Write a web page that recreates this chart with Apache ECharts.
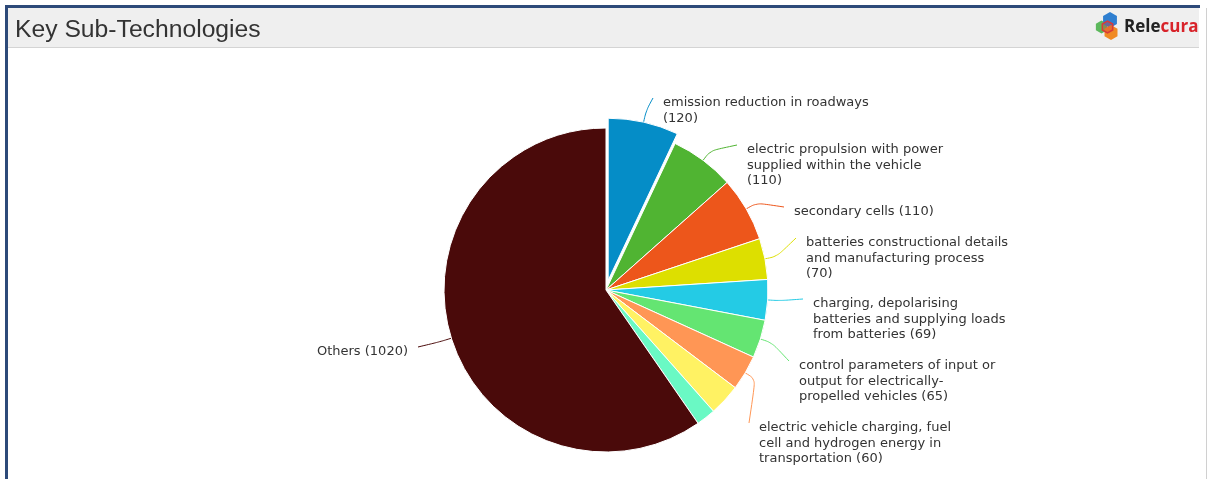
<!DOCTYPE html>
<html>
<head>
<meta charset="utf-8">
<title>Key Sub-Technologies</title>
<script src="https://cdn.jsdelivr.net/npm/echarts@6/dist/echarts.min.js"></script>
<style>
  html, body { margin: 0; padding: 0; background: #ffffff; }
  #chart { width: 1208px; height: 479px; }
</style>
</head>
<body>
<div id="chart"></div>
<script>
// Sub-technology names (line breaks where the label wraps) and patent counts
const categories = [
  'emission reduction in roadways',
  'electric propulsion with power\nsupplied within the vehicle',
  'secondary cells',
  'batteries constructional details\nand manufacturing process',
  'charging, depolarising\nbatteries and supplying loads\nfrom batteries',
  'control parameters of input or\noutput for electrically-\npropelled vehicles',
  'electric vehicle charging, fuel\ncell and hydrogen energy in\ntransportation',
  'unlabelled sub-technology A',
  'unlabelled sub-technology B',
  'Others'
];
const values = [120, 110, 110, 70, 69, 65, 60, 54, 33, 1020];
// the count is written on its own line for these labels
const countOnNewLine = [true, true, false, true, false, false, false, false, false, false];
const labelVisible = [true, true, true, true, true, true, true, false, false, true];
// the pulled-out slice
const SLICED = 0;

const colors = ['#058DC7', '#50B432', '#ED561B', '#DDDF00', '#24CBE5',
                '#64E572', '#FF9655', '#FFF263', '#6AF9C4', '#4A0A0A'];

// label placement: [x of the text edge nearest the pie, y of the first line's centre]
const labelPos = [[663, 101], [747, 148], [794, 210], [806, 241], [813, 302],
                  [799, 364], [759, 426], null, null, [408, 350]];

const CX = 606, CY = 290, R = 162, OFFSET = 10, LINE_H = 15.5;

const total = values.reduce((a, b) => a + b, 0);
const cumulative = [];
values.reduce((acc, v, i) => { cumulative[i] = acc; return acc + v; }, 0);
const midAngle = i => (cumulative[i] + values[i] / 2) / total * Math.PI * 2;

// shift of the pulled-out slice along its bisector
const slicedDx = OFFSET * Math.sin(midAngle(SLICED));
const slicedDy = -OFFSET * Math.cos(midAngle(SLICED));

function hexPoints(cx, cy, r) {
  const pts = [];
  for (let k = 0; k < 6; k++) {
    const a = Math.PI / 6 + k * Math.PI / 3;
    pts.push([cx + r * Math.cos(a), cy + r * Math.sin(a)]);
  }
  return pts;
}

const chart = echarts.init(document.getElementById('chart'), null, { renderer: 'canvas' });

// main ring: every slice except the pulled-out one, plus all labels
const mainData = categories.map((name, i) => ({
  name: name,
  value: values[i],
  itemStyle: i === SLICED
    ? { color: 'rgba(0,0,0,0)', borderWidth: 0 }
    : { color: colors[i] },
  label: { show: labelVisible[i] },
  labelLine: { show: labelVisible[i], lineStyle: { color: colors[i], width: 1 } }
}));

// the pulled-out slice, drawn from the same values on a shifted centre
const slicedData = categories.map((name, i) => ({
  name: name,
  value: values[i],
  itemStyle: i === SLICED
    ? { color: colors[i] }
    : { color: 'rgba(0,0,0,0)', borderWidth: 0 }
}));

chart.setOption({
  animation: false,
  graphic: [
    // panel frame and header bar
    { type: 'rect', z: 0, shape: { x: 8, y: 8, width: 1191, height: 39 }, style: { fill: '#efefef' } },
    { type: 'rect', z: 0, shape: { x: 8, y: 47, width: 1191, height: 1 }, style: { fill: '#d4d4d4' } },
    { type: 'rect', z: 0, shape: { x: 5, y: 5, width: 1195, height: 3 }, style: { fill: '#2d4a79' } },
    { type: 'rect', z: 0, shape: { x: 5, y: 5, width: 3, height: 474 }, style: { fill: '#2d4a79' } },
    { type: 'rect', z: 0, shape: { x: 1206, y: 8, width: 1, height: 471 }, style: { fill: '#d0d0d0' } },
    {
      type: 'text', z: 1, x: 15, y: 30,
      style: {
        text: 'Key Sub-Technologies', fill: '#333333',
        font: '24.7px "Liberation Sans", Arial, sans-serif',
        verticalAlign: 'middle'
      }
    },
    // brand mark
    { type: 'polygon', z: 1, shape: { points: hexPoints(1101.5, 27, 6.5) }, style: { fill: '#5cb85c' } },
    { type: 'polygon', z: 1, shape: { points: hexPoints(1110, 20, 8) }, style: { fill: '#2f7fd0' } },
    { type: 'polygon', z: 1, shape: { points: hexPoints(1111, 32.5, 7.5) }, style: { fill: '#f08a24' } },
    { type: 'polygon', z: 2, shape: { points: hexPoints(1107.5, 27, 6) }, style: { fill: 'rgba(214,60,60,0.35)', stroke: '#d83a3a', lineWidth: 1.5 } },
    {
      type: 'text', z: 1, x: 1124, y: 27,
      style: {
        text: '{a|Rele}{b|cura}',
        verticalAlign: 'middle',
        rich: {
          a: { fill: '#222222', font: 'bold 17px "Open Sans", sans-serif' },
          b: { fill: '#d8232a', font: 'bold 17px "Open Sans", sans-serif' }
        }
      }
    }
  ],
  series: [{
    type: 'pie',
    name: 'Key Sub-Technologies',
    center: [CX, CY],
    radius: R,
    startAngle: 90,
    clockwise: true,
    avoidLabelOverlap: false,
    emphasis: { disabled: true },
    itemStyle: { borderColor: '#ffffff', borderWidth: 1 },
    label: {
      show: true,
      position: 'outside',
      color: '#333333',
      fontFamily: '"DejaVu Sans", Verdana, sans-serif',
      fontSize: 13,
      lineHeight: LINE_H,
      formatter: p => p.name + (countOnNewLine[p.dataIndex] ? '\n' : ' ') + '(' + p.value + ')'
    },
    labelLine: { show: true, smooth: 0.35, length: 12, length2: 10 },
    labelLayout: function (p) {
      const i = p.dataIndex;
      const pos = labelPos[i];
      if (!pos) return {};
      const mid = midAngle(i);
      const sx = Math.sin(mid), sy = -Math.cos(mid);
      const ox = i === SLICED ? slicedDx : 0, oy = i === SLICED ? slicedDy : 0;
      const ax = CX + ox + R * sx, ay = CY + oy + R * sy;
      const mx = ax + 12 * sx, my = ay + 12 * sy;
      const leftSide = pos[0] < CX;
      const ex = leftSide ? pos[0] + 10 : pos[0] - 10;
      const ey = pos[1] - 3;
      return {
        x: pos[0],
        y: pos[1] - LINE_H / 2 + 2,
        align: leftSide ? 'right' : 'left',
        verticalAlign: 'top',
        labelLinePoints: [[ax, ay], [mx, my], [ex, ey]]
      };
    },
    data: mainData
  }, {
    type: 'pie',
    name: 'pulled-out slice',
    silent: true,
    center: [CX + slicedDx, CY + slicedDy],
    radius: R,
    startAngle: 90,
    clockwise: true,
    emphasis: { disabled: true },
    itemStyle: { borderColor: '#ffffff', borderWidth: 1 },
    label: { show: false },
    labelLine: { show: false },
    data: slicedData
  }]
});
</script>
</body>
</html>
